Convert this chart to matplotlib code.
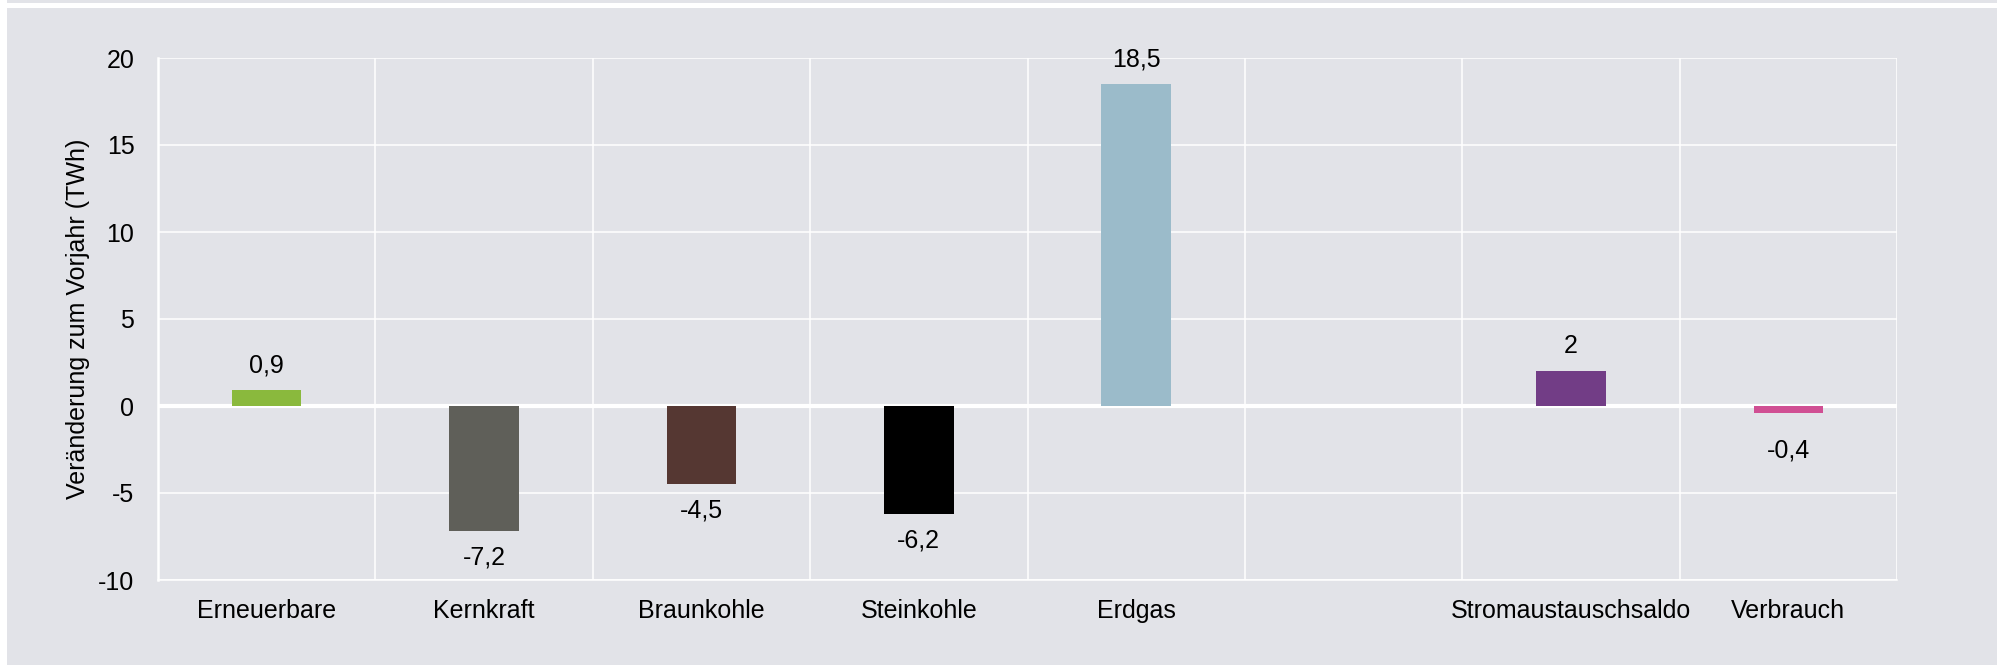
import numpy as np
import matplotlib.pyplot as plt
from matplotlib.patches import Rectangle

plt.rcParams['font.family'] = ['Liberation Sans', 'DejaVu Sans']

kategorien = ['Erneuerbare', 'Kernkraft', 'Braunkohle', 'Steinkohle', 'Erdgas', '',
              'Stromaustauschsaldo', 'Verbrauch']
werte = [0.9, -7.2, -4.5, -6.2, 18.5, np.nan, 2.0, -0.4]
farben = ['#8AB93D', '#5F5F59', '#553732', '#000000', '#9BBBCA', '#FFFFFF',
          '#723D86', '#D04F93']
y_ticks = [-10, -5, 0, 5, 10, 15, 20]

grau = '#E2E3E8'
W, H = 1997, 666

fig = plt.figure(figsize=(W / 100, H / 100), dpi=100, facecolor=grau)
# weisser Rand links/unten und weisser Streifen oben
fig.patches.append(Rectangle((0, 0), 7 / W, 1, transform=fig.transFigure,
                             facecolor='white', edgecolor='none', zorder=-5))
fig.patches.append(Rectangle((0, 0), 1, 1 / H, transform=fig.transFigure,
                             facecolor='white', edgecolor='none', zorder=-5))
fig.patches.append(Rectangle((7 / W, (H - 8) / H), 1, 5 / H, transform=fig.transFigure,
                             facecolor='white', edgecolor='none', zorder=-5))

ax = fig.add_axes([158 / W, (H - 580) / H, (1897 - 158) / W, (580 - 58) / H])
ax.set_facecolor(grau)

x = np.arange(len(kategorien))
ax.bar(x, werte, width=0.32, color=farben, zorder=3)

for xi, v in zip(x, werte):
    if np.isnan(v):
        continue
    txt = ('%g' % v).replace('.', ',')
    off = 18 if v >= 0 else -19
    if -1 < v < 0:
        off = -27  # Excel schiebt kleine negative Labels weiter nach unten
    ax.annotate(txt, (xi, v), xytext=(0, off), textcoords='offset points',
                ha='center', va='center', fontsize=18, color='black', zorder=4)

ax.set_xlim(-0.5, len(kategorien) - 0.5)
ax.set_ylim(-10, 20)
ax.set_yticks(y_ticks)
ax.set_yticklabels([str(t) for t in y_ticks])
ax.set_xticks(x)
ax.set_xticklabels(kategorien)
ax.set_xticks(np.arange(len(kategorien) + 1) - 0.5, minor=True)

ax.grid(axis='y', which='major', color='white', lw=1.1, zorder=1)
ax.grid(axis='x', which='minor', color='white', lw=1.1, zorder=1)
ax.axhline(0, color='white', lw=3, zorder=2)

ax.tick_params(axis='both', which='both', length=0, labelsize=18, colors='black')
ax.tick_params(axis='y', pad=17)
ax.tick_params(axis='x', pad=14)

for s in ['top', 'right']:
    ax.spines[s].set_visible(False)
ax.spines['left'].set_color('white')
ax.spines['left'].set_linewidth(1.8)
ax.spines['bottom'].set_color('white')
ax.spines['bottom'].set_linewidth(1.1)

ax.set_ylabel('Veränderung zum Vorjahr (TWh)', fontsize=18, labelpad=6)

fig.savefig('out.png', dpi=100, facecolor=fig.get_facecolor())
